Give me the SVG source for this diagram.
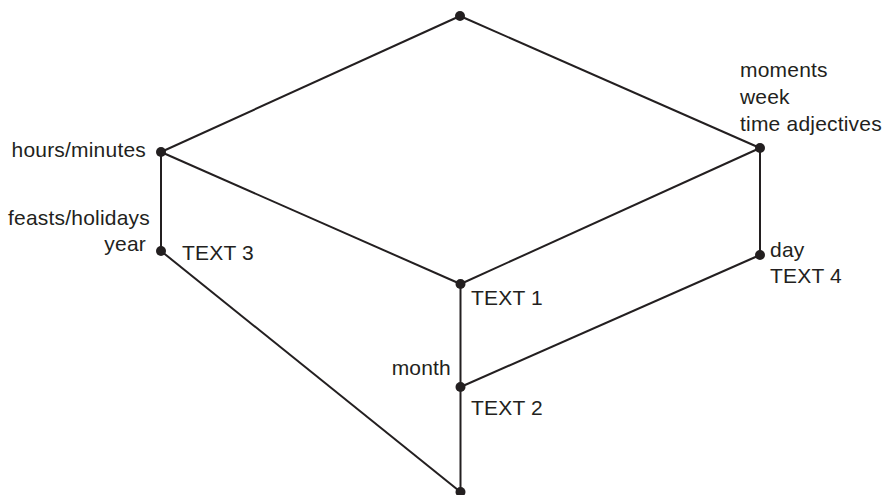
<svg xmlns="http://www.w3.org/2000/svg" width="882" height="495" viewBox="0 0 882 495">
<style>
.e{stroke:#231f20;stroke-width:2;fill:none}
.n{fill:#231f20}
text{font-family:"Liberation Sans",Arial,sans-serif;font-size:21px;letter-spacing:0.2px;fill:#231f20}
.r{text-anchor:end}
</style>
<rect width="882" height="495" fill="#fff"/>
<g id="connectors">
<line class="e" x1="460" y1="16" x2="161" y2="152"/>
<line class="e" x1="460" y1="16" x2="760" y2="148"/>
<line class="e" x1="161" y1="152" x2="460.5" y2="284"/>
<line class="e" x1="760" y1="148" x2="460.5" y2="284"/>
<line class="e" x1="161" y1="152" x2="161" y2="251"/>
<line class="e" x1="760" y1="148" x2="760" y2="255"/>
<line class="e" x1="460.5" y1="284" x2="460.5" y2="387"/>
<line class="e" x1="460.5" y1="387" x2="760" y2="255"/>
<line class="e" x1="161" y1="251" x2="460.5" y2="492"/>
<line class="e" x1="460.5" y1="387" x2="460.5" y2="492"/>
</g>
<g id="n-top"><circle class="n" cx="460" cy="16" r="5"/></g>
<g id="n-hours"><circle class="n" cx="161" cy="152" r="5"/><text class="r" x="146" y="157">hours/minutes</text></g>
<g id="n-right"><circle class="n" cx="760" cy="148" r="5"/><text x="740" y="77">moments</text><text x="740" y="104">week</text><text x="740" y="131">time adjectives</text></g>
<g id="n-year"><circle class="n" cx="161" cy="251" r="5"/><text class="r" x="150" y="225">feasts/holidays</text><text class="r" x="146" y="251">year</text><text x="182" y="259.5">TEXT 3</text></g>
<g id="n-text1"><circle class="n" cx="460.5" cy="284" r="5"/><text x="471" y="305">TEXT 1</text></g>
<g id="n-day"><circle class="n" cx="760" cy="255" r="5"/><text x="770" y="257">day</text><text x="770" y="283">TEXT 4</text></g>
<g id="n-month"><circle class="n" cx="460.5" cy="387" r="5"/><text class="r" x="451" y="375">month</text><text x="471" y="415">TEXT 2</text></g>
<g id="n-bottom"><circle class="n" cx="460.5" cy="492" r="5"/></g>
</svg>
